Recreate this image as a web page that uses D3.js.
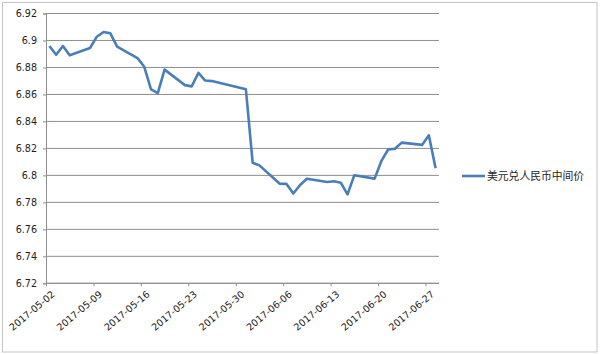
<!DOCTYPE html>
<html><head><meta charset="utf-8">
<script src="https://cdn.jsdelivr.net/npm/d3@7/dist/d3.min.js"></script>
<style>body{margin:0;background:#fff}svg{display:block}</style>
</head><body>
<svg id="c" width="600" height="354"></svg>
<script>
const dates = ["2017-05-02","2017-05-03","2017-05-04","2017-05-05","2017-05-08","2017-05-09","2017-05-10","2017-05-11","2017-05-12",
"2017-05-15","2017-05-16","2017-05-17","2017-05-18","2017-05-19","2017-05-22","2017-05-23","2017-05-24","2017-05-25","2017-05-26",
"2017-05-31","2017-06-01","2017-06-02","2017-06-05","2017-06-06","2017-06-07","2017-06-08","2017-06-09","2017-06-12","2017-06-13",
"2017-06-14","2017-06-15","2017-06-16","2017-06-19","2017-06-20","2017-06-21","2017-06-22","2017-06-23","2017-06-26","2017-06-27","2017-06-28"];
const values = [6.8959,6.8894,6.8959,6.8890,6.8944,6.9028,6.9063,6.9053,6.8954,
6.8870,6.8805,6.8638,6.8610,6.8784,6.8669,6.8660,6.8760,6.8703,6.8699,
6.8638,6.8094,6.8074,6.7938,6.7937,6.7866,6.7929,6.7975,6.7951,6.7957,
6.7946,6.7859,6.8001,6.7976,6.8107,6.8192,6.8198,6.8243,6.8226,6.8297,6.8053];
const yTicks = [6.72,6.74,6.76,6.78,6.8,6.82,6.84,6.86,6.88,6.9,6.92];
const xTickLabels = ["2017-05-02","2017-05-09","2017-05-16","2017-05-23","2017-05-30","2017-06-06","2017-06-13","2017-06-20","2017-06-27"];
const seriesName = "美元兑人民币中间价";

const parse = d3.utcParse("%Y-%m-%d");
const svg = d3.select("#c");
const L = 46, R = 439, T = 13.5, B = 283.3;
const x = d3.scaleUtc().domain([parse("2017-05-02"), parse("2017-06-29")]).range([L, R]);
const y = d3.scaleLinear().domain([6.72, 6.92]).range([B, T]);
const font = "'DejaVu Sans', sans-serif";
const grid = "#8e8e8e";

svg.append("rect").attr("x",2.5).attr("y",2.5).attr("width",594.5).attr("height",349.5)
  .attr("fill","#fff").attr("stroke","#c4c4c4");

// gridlines
svg.append("g").selectAll("line").data(yTicks).join("line")
  .attr("x1", L).attr("x2", R).attr("y1", d=>y(d)).attr("y2", d=>y(d))
  .attr("stroke", grid).attr("stroke-width", 1);

// y axis
const yAxis = d3.axisLeft(y).tickValues(yTicks).tickSize(3).tickPadding(6).tickFormat(d3.format("~g"));
const gy = svg.append("g").attr("transform",`translate(${L},0)`).call(yAxis);
gy.select(".domain").attr("stroke", grid);
gy.selectAll(".tick line").attr("stroke", grid);
gy.selectAll("text").attr("font-family", font).attr("font-size", 9.6).attr("fill","#1e1e1e");

// x axis
const xAxis = d3.axisBottom(x).tickValues(xTickLabels.map(parse)).tickSize(3).tickFormat(d3.utcFormat("%Y-%m-%d"));
const gx = svg.append("g").attr("transform",`translate(0,${B})`).call(xAxis);
gx.select(".domain").attr("stroke", grid).attr("d", `M${L},0H${R}`);
gx.selectAll(".tick line").attr("stroke", grid);
gx.selectAll("text").attr("font-family", font).attr("font-size", 9.6).attr("fill","#1e1e1e")
  .attr("text-anchor","end").attr("dy",0).attr("y",0)
  .attr("transform","translate(9,12) rotate(-40)");

// line
const pts = dates.map((d,i)=>({t: d3.utcHour.offset(parse(d), 12), v: values[i]}));
svg.append("path").datum(pts)
  .attr("fill","none").attr("stroke","#4a7ebb").attr("stroke-width",2.6).attr("stroke-linejoin","round")
  .attr("d", d3.line().x(d=>x(d.t)).y(d=>y(d.v)));

// legend
svg.append("line").attr("x1",462).attr("x2",485).attr("y1",176).attr("y2",176)
  .attr("stroke","#4a7ebb").attr("stroke-width",2.6);
svg.append("text").attr("x",487).attr("y",176).attr("dy","0.36em")
  .attr("font-family","'Noto Sans CJK SC', sans-serif").attr("font-size",10.8).attr("fill","#1e1e1e")
  .text(seriesName);
</script>
</body></html>
